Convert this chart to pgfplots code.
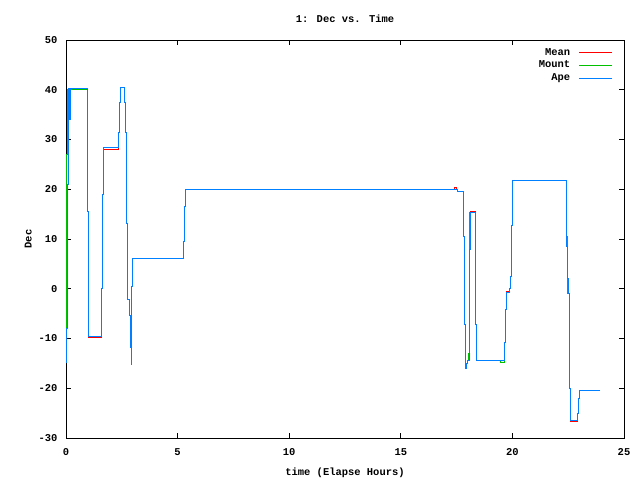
\documentclass[border=0pt]{standalone}
\usepackage{pgfplots}
\pgfplotsset{compat=1.18}
\usepackage{fontspec}
\setmainfont{Liberation Mono}
\definecolor{gpred}{RGB}{255,0,0}
\definecolor{gpgreen}{RGB}{0,192,0}
\definecolor{gpblue}{RGB}{0,128,255}
\pgfplotsset{legend image code/.code={\draw[#1,line width=1.2bp] (0bp,0bp) -- (33bp,0bp);}}
\begin{document}
\begin{tikzpicture}[font=\fontsize{10.5}{12}\selectfont\bfseries]
\path[use as bounding box] (-66bp,-42bp) rectangle (574bp,438bp);
\begin{axis}[
  at={(0,0)}, anchor=south west,
  scale only axis, width=558bp, height=398bp,
  xmin=0, xmax=25, ymin=-30, ymax=50,
  xtick={0,5,10,15,20,25}, ytick={-30,-20,-10,0,10,20,30,40,50},
  tick align=inside, major tick length=5bp,
  tick style={black, line width=0.8bp},
  axis line style={black, line width=0.8bp},
  /pgf/number format/assume math mode=true,
  xticklabel style={yshift=-7bp},
  yticklabel style={xshift=-5bp},
  title={1: Dec vs. Time},
  title style={yshift=8bp},
  xlabel={time (Elapse Hours)},
  ylabel={Dec},
  xlabel style={yshift=-5bp},
  legend style={draw=none, fill=none, at={(0.985,0.99)}, anchor=north east,
    row sep=0.5bp, font=\fontsize{10.5}{12}\selectfont\bfseries},
  legend cell align=right, legend plot pos=right,
  every axis plot/.append style={line width=1bp},
]
\addplot[gpred, forget plot] coordinates {
(0,-15) (0,-8) (0.06,-8) (0.06,7.5) (0.08,7.5) (0.08,21) (0.12,21) (0.12,40.3)
(0.95,40.3) (0.95,15.5) (1.0,15.5) (1.0,-9.7) (1.57,-9.7) (1.57,0) (1.62,0)
(1.62,19) (1.67,19) (1.67,28.0) (2.36,28.0) (2.36,31.5) (2.41,31.5) (2.41,37.5)
(2.45,37.5) (2.45,40.5) (2.61,40.5) (2.61,37.5) (2.65,37.5) (2.65,31.5) (2.7,31.5)
(2.7,13.2) (2.74,13.2) (2.74,-2.1) (2.83,-2.1) (2.83,-5.4) (2.87,-5.4) (2.87,-11.8)
(2.92,-11.8) (2.92,-15.3) (2.95,-15.3) (2.95,0.5) (3.0,0.5) (3.0,6) (5.26,6)
(5.26,9.5) (5.3,9.5) (5.3,16.5) (5.35,16.5) (5.35,20) (17.42,20) (17.42,20.3)
(17.5,20.3) (17.5,20) (17.55,20) (17.55,19.6) (17.8,19.6) (17.8,10.5) (17.85,10.5)
(17.85,-7.1) (17.9,-7.1) (17.9,-16.1) (17.94,-16.1) (17.94,-15) (17.98,-15)
(17.98,-14.5) (18.1,-14.5) (18.1,7.8) (18.14,7.8) (18.14,15.5) (18.33,15.5)
(18.33,-7.1) (18.38,-7.1) (18.38,-14.5) (19.64,-14.5) (19.64,-10.9) (19.7,-10.9)
(19.7,-4.2) (19.74,-4.2) (19.74,-0.5) (19.89,-0.5) (19.89,0) (19.93,0) (19.93,2.5)
(19.97,2.5) (19.97,12.7) (20.02,12.7) (20.02,21.7) (22.43,21.7) (22.43,8.5)
(22.47,8.5) (22.47,2.1) (22.52,2.1) (22.52,-0.9) (22.54,-0.9) (22.54,-7.1)
(22.58,-7.1) (22.58,-20) (22.62,-20) (22.62,-26.7) (22.92,-26.7) (22.92,-25)
(22.96,-25) (22.96,-22) (23.0,-22) (23.0,-20.5) (23.91,-20.5)
};
\addplot[gpgreen, forget plot] coordinates {
(0,-15) (0,-1) (0.03,-1) (0.03,27) (0.06,27) (0.06,40)
(0.95,40) (0.95,15.5) (1.0,15.5) (1.0,-9.5) (1.57,-9.5) (1.57,0) (1.62,0)
(1.62,19) (1.67,19) (1.67,28.3) (2.36,28.3) (2.36,31.5) (2.41,31.5) (2.41,37.5)
(2.45,37.5) (2.45,40.5) (2.61,40.5) (2.61,37.5) (2.65,37.5) (2.65,31.5) (2.7,31.5)
(2.7,13.2) (2.74,13.2) (2.74,-2.1) (2.83,-2.1) (2.83,-5.4) (2.87,-5.4) (2.87,-11.8)
(2.92,-11.8) (2.92,-15.3) (2.95,-15.3) (2.95,0.5) (3.0,0.5) (3.0,6) (5.26,6)
(5.26,9.5) (5.3,9.5) (5.3,16.5) (5.35,16.5) (5.35,20)
(17.55,20) (17.55,19.6) (17.8,19.6) (17.8,10.5) (17.85,10.5)
(17.85,-7.1) (17.9,-7.1) (17.9,-16.1) (17.94,-16.1) (17.94,-15) (17.98,-15)
(17.98,-14.5) (18.04,-14.5) (18.04,-13) (18.07,-13) (18.07,15.3) (18.33,15.3)
(18.33,-7.1) (18.38,-7.1) (18.38,-14.5) (19.45,-14.5) (19.45,-14.9) (19.64,-14.9) (19.64,-10.9) (19.7,-10.9)
(19.7,-4.2) (19.74,-4.2) (19.74,-0.7) (19.89,-0.7) (19.89,0) (19.93,0) (19.93,2.5)
(19.97,2.5) (19.97,12.7) (20.02,12.7) (20.02,21.7) (22.41,21.7) (22.41,16.9)
(22.43,16.9) (22.43,10.5) (22.47,10.5) (22.47,-0.9) (22.54,-0.9) (22.54,-7.1)
(22.58,-7.1) (22.58,-20) (22.62,-20) (22.62,-26.5) (22.92,-26.5) (22.92,-25)
(22.96,-25) (22.96,-22) (23.0,-22) (23.0,-20.5) (23.91,-20.5)
};
\addplot[gpblue, forget plot] coordinates {
(0,-15) (0,-8) (0.06,-8) (0.06,7.5) (0.08,7.5) (0.08,21) (0.12,21) (0.12,40.3)
(0.15,40.3) (0.15,34) (0.18,34) (0.18,40.3)
(0.95,40.3) (0.95,15.5) (1.0,15.5) (1.0,-9.5) (1.57,-9.5) (1.57,0) (1.62,0)
(1.62,19) (1.67,19) (1.67,28.3) (2.36,28.3) (2.36,31.5) (2.41,31.5) (2.41,37.5)
(2.45,37.5) (2.45,40.5) (2.61,40.5) (2.61,37.5) (2.65,37.5) (2.65,31.5) (2.7,31.5)
(2.7,13.2) (2.74,13.2) (2.74,-2.1) (2.83,-2.1) (2.83,-5.4) (2.87,-5.4) (2.87,-11.8)
(2.92,-11.8) (2.92,-15.3) (2.95,-15.3) (2.95,0.5) (3.0,0.5) (3.0,6) (5.26,6)
(5.26,9.5) (5.3,9.5) (5.3,16.5) (5.35,16.5) (5.35,20)
(17.55,20) (17.55,19.6) (17.8,19.6) (17.8,10.5) (17.85,10.5)
(17.85,-7.1) (17.9,-7.1) (17.9,-16.1) (17.94,-16.1) (17.94,-15) (17.98,-15)
(17.98,-14.5) (18.1,-14.5) (18.1,7.8) (18.14,7.8) (18.14,15.3) (18.33,15.3)
(18.33,-7.1) (18.38,-7.1) (18.38,-14.5) (19.64,-14.5) (19.64,-10.9) (19.7,-10.9)
(19.7,-4.2) (19.74,-4.2) (19.74,-0.7) (19.89,-0.7) (19.89,0) (19.93,0) (19.93,2.5)
(19.97,2.5) (19.97,12.7) (20.02,12.7) (20.02,21.7) (22.43,21.7) (22.43,8.5)
(22.47,8.5) (22.47,2.1) (22.52,2.1) (22.52,-0.9) (22.54,-0.9) (22.54,-7.1)
(22.58,-7.1) (22.58,-20) (22.62,-20) (22.62,-26.5) (22.92,-26.5) (22.92,-25)
(22.96,-25) (22.96,-22) (23.0,-22) (23.0,-20.5) (23.91,-20.5)
};
\addlegendimage{gpred, line width=1bp}
\addlegendentry{Mean\hspace*{6bp}}
\addlegendimage{gpgreen, line width=1bp}
\addlegendentry{Mount\hspace*{6bp}}
\addlegendimage{gpblue, line width=1bp}
\addlegendentry{Ape\hspace*{6bp}}
\end{axis}
\end{tikzpicture}
\end{document}
